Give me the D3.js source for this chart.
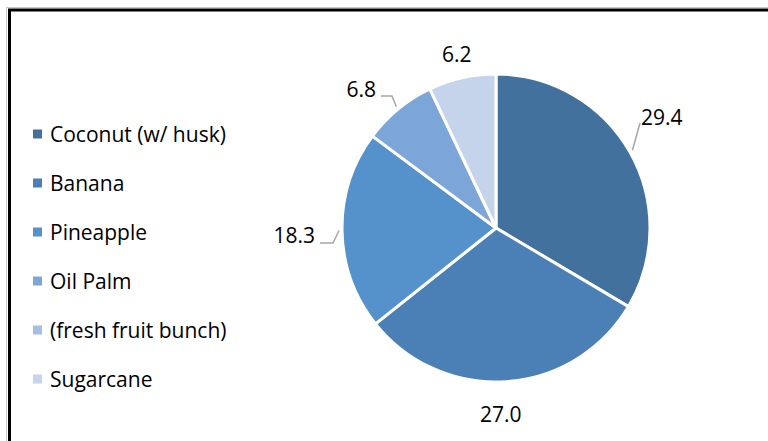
<!DOCTYPE html>
<html>
<head>
<meta charset="utf-8">
<script src="https://cdn.jsdelivr.net/npm/d3@7"></script>
<style>
  body { margin: 0; background: #fff; }
  svg text { font-family: "Open Sans", sans-serif; fill: #000; }
</style>
</head>
<body>
<div class="chart"></div>
<script>
// data
var categories = ["Coconut (w/ husk)", "Banana", "Pineapple", "Oil Palm", "(fresh fruit bunch)", "Sugarcane"];
var values = [29.4, 27.0, 18.3, 6.8, null, 6.2];
var colors = ["#42719d", "#4b80b6", "#5592cb", "#7ca6d8", "#a5c0e5", "#c5d4ea"];

var width = 768, height = 441,
	cx = 496, cy = 228,
	radius = 154;

var svg = d3.select(".chart").append("svg")
	.attr("width", width)
	.attr("height", height);

// frame (runs off the right/bottom edges like the screenshot)
svg.append("rect")
	.attr("x", 6.5).attr("y", 7.5)
	.attr("width", 800).attr("height", 500)
	.attr("fill", "none").attr("stroke", "#c8c8c8").attr("stroke-width", 1);
svg.append("rect")
	.attr("x", 9.5).attr("y", 10)
	.attr("width", 800).attr("height", 500)
	.attr("fill", "none").attr("stroke", "#000").attr("stroke-width", 3);

var rows = categories.map(function(c, i){ return {name: c, value: values[i], color: colors[i], i: i}; });

var pie = d3.pie()
	.sort(null)
	.value(function(d){ return d.value || 0; });

var arc = d3.arc().innerRadius(0).outerRadius(radius);

var arcs = pie(rows).filter(function(d){ return d.data.value; });

var g = svg.append("g").attr("transform", "translate(" + cx + "," + cy + ")");

g.selectAll("path.slice")
	.data(arcs)
	.enter().append("path")
	.attr("class", "slice")
	.attr("d", arc)
	.attr("fill", function(d){ return d.data.color; })
	.attr("stroke", "#fff")
	.attr("stroke-width", 3)
	.attr("stroke-linejoin", "round");

// label placement, tuned per slice (radius from centre, leader bends, text offset)
var labelLayout = {
	0: {r: 157, leader: [[7.6, -27.3]], text: [1, -6], anchor: "start"},
	1: {r: 187, leader: null, text: [-8, 0], anchor: "middle"},
	2: {r: 157, leader: [[-6, 12.5], [-13, 0]], text: [-5, -7.5], anchor: "end"},
	3: {r: 157, leader: [[-4.4, -10.7], [-11, 0]], text: [-5, -6.5], anchor: "end"},
	5: {r: 178, leader: null, text: [0, 0], anchor: "middle"}
};

function polar(a, r){ return [r * Math.sin(a), -r * Math.cos(a)]; }

arcs.forEach(function(d){
	var lay = labelLayout[d.data.i];
	var mid = (d.startAngle + d.endAngle) / 2;
	var p = polar(mid, lay.r);
	var pts = [p.slice()];
	if (lay.leader) {
		lay.leader.forEach(function(o){
			p = [p[0] + o[0], p[1] + o[1]];
			pts.push(p.slice());
		});
		g.append("polyline")
			.attr("points", pts.map(function(q){ return q.join(","); }).join(" "))
			.attr("fill", "none")
			.attr("stroke", "#a6a6a6")
			.attr("stroke-width", 1.5);
	}
	g.append("text")
		.attr("x", p[0] + lay.text[0])
		.attr("y", p[1] + lay.text[1])
		.attr("dy", "0.36em")
		.attr("text-anchor", lay.anchor)
		.style("font-size", "21px")
		.text(d3.format(".1f")(d.data.value));
});

// legend
var legend = svg.append("g").attr("transform", "translate(33,134)");
var item = legend.selectAll("g")
	.data(rows)
	.enter().append("g")
	.attr("transform", function(d, i){ return "translate(0," + (i * 49) + ")"; });

item.append("rect")
	.attr("x", 0).attr("y", -4.5)
	.attr("width", 9).attr("height", 9)
	.attr("fill", function(d){ return d.color; });

item.append("text")
	.attr("x", 17)
	.attr("y", 0)
	.attr("dy", "0.36em")
	.style("font-size", "21px")
	.text(function(d){ return d.name; });
</script>
</body>
</html>
